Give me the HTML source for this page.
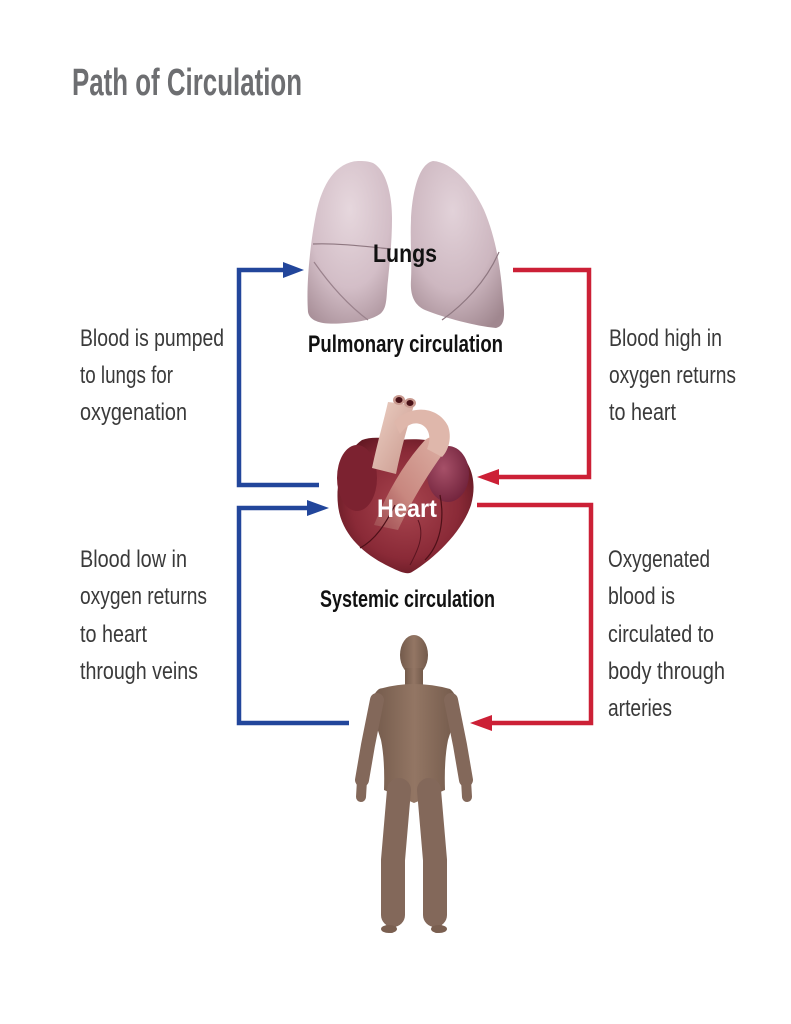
<!DOCTYPE html>
<html>
<head>
<meta charset="utf-8">
<style>
html,body{margin:0;padding:0;background:#fff;}
svg{display:block;}
.t{font-family:"Liberation Sans",sans-serif;font-size:24px;fill:#3a3a3a;}
.b{font-family:"Liberation Sans",sans-serif;font-weight:bold;}
</style>
</head>
<body>
<svg width="791" height="1024" viewBox="0 0 791 1024" xmlns="http://www.w3.org/2000/svg">
<defs>
  <radialGradient id="lungL" cx="0.5" cy="0.3" r="0.8">
    <stop offset="0" stop-color="#e6d7dd"/>
    <stop offset="0.6" stop-color="#d3bec7"/>
    <stop offset="1" stop-color="#a99099"/>
  </radialGradient>
  <radialGradient id="lungR" cx="0.45" cy="0.3" r="0.8">
    <stop offset="0" stop-color="#e2d2d9"/>
    <stop offset="0.6" stop-color="#cdb7c0"/>
    <stop offset="1" stop-color="#a0878f"/>
  </radialGradient>
  <radialGradient id="heartG" cx="0.5" cy="0.5" r="0.6">
    <stop offset="0" stop-color="#a8454f"/>
    <stop offset="0.65" stop-color="#8a2a37"/>
    <stop offset="1" stop-color="#5e1620"/>
  </radialGradient>
  <linearGradient id="vesselG" x1="0" y1="0" x2="1" y2="1">
    <stop offset="0" stop-color="#ecd0c4"/>
    <stop offset="1" stop-color="#c9978c"/>
  </linearGradient>
  <linearGradient id="bandG" x1="1" y1="0" x2="0" y2="1">
    <stop offset="0" stop-color="#ddb0a4"/>
    <stop offset="0.6" stop-color="#c8877f"/>
    <stop offset="1" stop-color="#a65a5c" stop-opacity="0.6"/>
  </linearGradient>
  <radialGradient id="aurG" cx="0.4" cy="0.4" r="0.7">
    <stop offset="0" stop-color="#a65068"/>
    <stop offset="1" stop-color="#6e2039"/>
  </radialGradient>
  <linearGradient id="skin" x1="0" y1="0" x2="1" y2="0">
    <stop offset="0" stop-color="#735a4b"/>
    <stop offset="0.5" stop-color="#937664"/>
    <stop offset="1" stop-color="#735a4b"/>
  </linearGradient>
</defs>

<rect width="791" height="1024" fill="#fff"/>

<!-- Title -->
<text x="72" y="95" class="b" font-size="38" fill="#6d6e71" textLength="230" lengthAdjust="spacingAndGlyphs">Path of Circulation</text>

<!-- Lungs -->
<path d="M358,161 C336,162 322,184 316,214 C310,245 306,285 308,312 C310,323 326,325 346,323 C361,322 373,319 380,314 C388,308 386,295 388,280 C390,260 392,240 392,218 C392,194 386,170 373,163 C368,161 363,161 358,161 Z" fill="url(#lungL)"/>
<path d="M433,161 C452,162 472,184 484,210 C496,238 501,270 503,300 C505,315 505,326 496,328 C475,326 445,318 425,310 C414,305 410,295 411,280 C412,260 410,240 411,220 C412,195 418,164 433,161 Z" fill="url(#lungR)"/>
<path d="M313,244 C335,243 362,246 391,249" stroke="#8e7780" stroke-width="1.2" fill="none"/>
<path d="M314,262 C330,285 348,305 368,320" stroke="#9a828c" stroke-width="1.2" fill="none"/>
<path d="M499,252 C486,282 463,305 442,320" stroke="#8e7780" stroke-width="1.2" fill="none"/>
<text x="373" y="262" class="b" font-size="25" fill="#111" textLength="64" lengthAdjust="spacingAndGlyphs">Lungs</text>
<text x="308" y="352" class="b" font-size="24" fill="#111" textLength="195" lengthAdjust="spacingAndGlyphs">Pulmonary circulation</text>

<!-- Heart -->
<path d="M362,440 C345,452 335,480 338,505 C341,535 365,555 390,567 C400,572 408,575 412,572 C435,558 462,532 471,505 C478,480 470,460 455,450 C440,440 420,438 400,440 C385,438 372,436 362,440 Z" fill="url(#heartG)"/>
<ellipse cx="357" cy="478" rx="20" ry="33" fill="#7c2230"/>
<ellipse cx="448" cy="474" rx="21" ry="28" fill="url(#aurG)"/>
<path d="M374,525 C388,490 405,462 425,440 C437,431 448,441 442,455 C427,476 412,500 398,530 Z" fill="url(#bandG)"/>
<path d="M388,402 C384,420 378,440 372,468 L396,474 C402,445 408,425 414,405 Z" fill="url(#vesselG)"/>
<path d="M394,422 C410,404 438,406 448,426 C452,437 449,450 442,457 L427,449 C432,438 429,427 420,424 C410,421 404,429 400,434 Z" fill="#dfb7ab"/>
<ellipse cx="399" cy="400" rx="6" ry="5" fill="#c99a90"/>
<ellipse cx="399" cy="400" rx="3.5" ry="3" fill="#4a1218"/>
<ellipse cx="410" cy="403" rx="6" ry="5" fill="#c99a90"/>
<ellipse cx="410" cy="403" rx="3.5" ry="3" fill="#4a1218"/>
<path d="M395,505 C385,525 375,540 360,548" stroke="#4e1018" stroke-width="1.2" fill="none"/>
<path d="M440,495 C445,520 440,545 425,560" stroke="#4e1018" stroke-width="1.2" fill="none"/>
<path d="M418,520 C425,535 418,550 410,565" stroke="#5a1520" stroke-width="1" fill="none"/>
<text x="377" y="517" class="b" font-size="25" fill="#fff" textLength="60" lengthAdjust="spacingAndGlyphs">Heart</text>
<text x="320" y="607" class="b" font-size="24" fill="#111" textLength="175" lengthAdjust="spacingAndGlyphs">Systemic circulation</text>

<!-- Body -->
<g fill="url(#skin)" stroke="none">
  <ellipse cx="414" cy="655" rx="14" ry="20"/>
  <rect x="405" y="668" width="18" height="22"/>
  <path d="M379,689 Q414,679 450,689 Q459,696 457,712 L448,740 Q444,760 445,790 L414,803 L384,790 Q385,760 381,740 L372,712 Q370,696 379,689 Z"/>
</g>
<g fill="none" stroke="#83685a" stroke-linecap="round" stroke-linejoin="round">
  <path d="M377,700 L368,745 L362,780" stroke-width="14"/>
  <path d="M451,700 L460,745 L466,780" stroke-width="14"/>
  <path d="M362,780 L361,797" stroke-width="10"/>
  <path d="M466,780 L467,797" stroke-width="10"/>
  <path d="M399,790 L393,860 L393,915" stroke-width="24"/>
  <path d="M429,790 L435,860 L435,915" stroke-width="24"/>
  <path d="M393,905 L391,928" stroke-width="10"/>
  <path d="M435,905 L437,928" stroke-width="10"/>
</g>
<ellipse cx="389" cy="929" rx="8" ry="4" fill="#7a5f50"/>
<ellipse cx="439" cy="929" rx="8" ry="4" fill="#7a5f50"/>

<!-- Arrows -->
<g fill="none" stroke-width="4.5" stroke-linejoin="miter">
  <path d="M319,485 H239 V270 H286" stroke="#22469b"/>
  <path d="M349,723 H239 V508 H310" stroke="#22469b"/>
  <path d="M513,270 H589 V477 H496" stroke="#cc2036"/>
  <path d="M477,505 H591 V723 H489" stroke="#cc2036"/>
</g>
<polygon points="283,262 304,270 283,278" fill="#22469b"/>
<polygon points="307,500 329,508 307,516" fill="#22469b"/>
<polygon points="499,469 477,477 499,485" fill="#cc2036"/>
<polygon points="492,715 470,723 492,731" fill="#cc2036"/>

<!-- Side labels -->
<text class="t" x="80" y="346" textLength="144" lengthAdjust="spacingAndGlyphs">Blood is pumped</text>
<text class="t" x="80" y="383" textLength="93" lengthAdjust="spacingAndGlyphs">to lungs for</text>
<text class="t" x="80" y="420" textLength="107" lengthAdjust="spacingAndGlyphs">oxygenation</text>

<text class="t" x="609" y="346" textLength="113" lengthAdjust="spacingAndGlyphs">Blood high in</text>
<text class="t" x="609" y="383" textLength="127" lengthAdjust="spacingAndGlyphs">oxygen returns</text>
<text class="t" x="609" y="420" textLength="67" lengthAdjust="spacingAndGlyphs">to heart</text>

<text class="t" x="80" y="567" textLength="107" lengthAdjust="spacingAndGlyphs">Blood low in</text>
<text class="t" x="80" y="604" textLength="127" lengthAdjust="spacingAndGlyphs">oxygen returns</text>
<text class="t" x="80" y="642" textLength="67" lengthAdjust="spacingAndGlyphs">to heart</text>
<text class="t" x="80" y="679" textLength="118" lengthAdjust="spacingAndGlyphs">through veins</text>

<text class="t" x="608" y="567" textLength="102" lengthAdjust="spacingAndGlyphs">Oxygenated</text>
<text class="t" x="608" y="604" textLength="67" lengthAdjust="spacingAndGlyphs">blood is</text>
<text class="t" x="608" y="642" textLength="106" lengthAdjust="spacingAndGlyphs">circulated to</text>
<text class="t" x="608" y="679" textLength="117" lengthAdjust="spacingAndGlyphs">body through</text>
<text class="t" x="608" y="716" textLength="64" lengthAdjust="spacingAndGlyphs">arteries</text>
</svg>
</body>
</html>
